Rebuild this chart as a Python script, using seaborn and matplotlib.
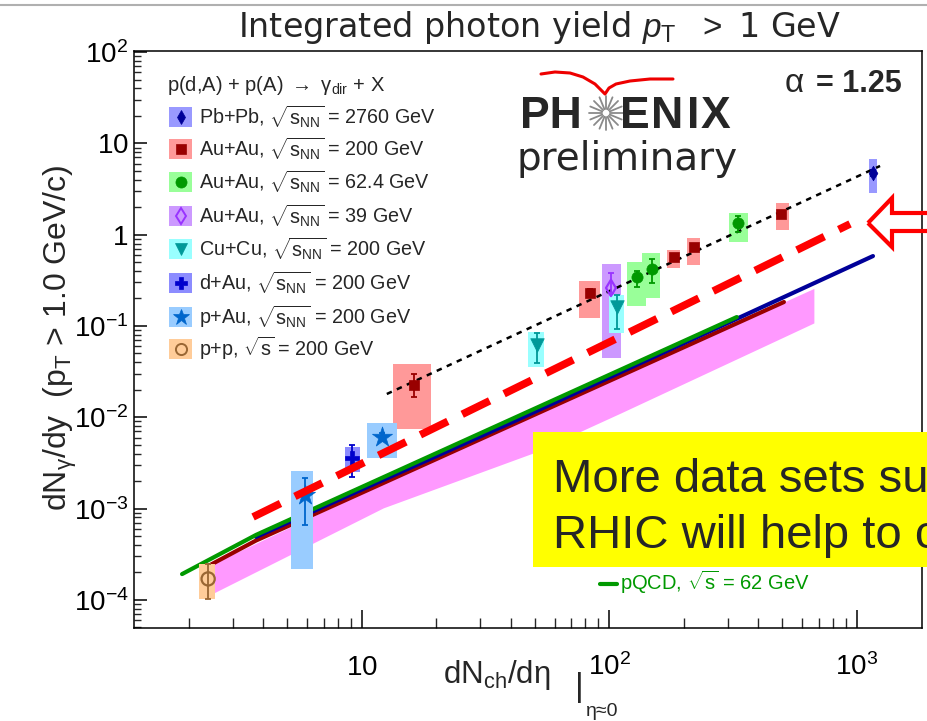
import matplotlib
matplotlib.use("Agg")
import numpy as np
import pandas as pd
import seaborn as sns
import matplotlib.pyplot as plt
from matplotlib.patches import Rectangle, Polygon
from matplotlib.lines import Line2D
from matplotlib.ticker import LogLocator, NullFormatter

# ---------------- data ----------------
# Pb+Pb 2760 GeV
pbpb_x = [1161]
pbpb_y = [4.73]
pbpb_stat_lo = [4.35]
pbpb_stat_hi = [5.15]
pbpb_box_xlo = [1117]
pbpb_box_xhi = [1205]
pbpb_sys_lo = [2.86]
pbpb_sys_hi = [6.73]

# Au+Au 200 GeV
auau200_x = [16.2, 83.4, 182, 219, 493]
auau200_y = [0.0226, 0.230, 0.569, 0.733, 1.68]
auau200_stat_lo = [0.0167, 0.207, 0.54, 0.70, 1.60]
auau200_stat_hi = [0.0298, 0.255, 0.60, 0.77, 1.77]
auau200_box_xlo = [13.3, 75.3, 171, 206, 471]
auau200_box_xhi = [19.0, 91.6, 193, 232, 531]
auau200_sys_lo = [0.00745, 0.1223, 0.431, 0.466, 1.125]
auau200_sys_hi = [0.0384, 0.311, 0.679, 0.919, 2.22]

# Au+Au 62.4 GeV
auau62_x = [129, 149, 330]
auau62_y = [0.344, 0.421, 1.343]
auau62_stat_lo = [0.267, 0.296, 1.07]
auau62_stat_hi = [0.40, 0.54, 1.62]
auau62_box_xlo = [118, 135, 304]
auau62_box_xhi = [140, 160, 363]
auau62_sys_lo = [0.1656, 0.202, 0.832]
auau62_sys_hi = [0.502, 0.63, 1.73]

# Au+Au 39 GeV
auau39_x = [101.4]
auau39_y = [0.261]
auau39_stat_lo = [0.2296]
auau39_stat_hi = [0.38]
auau39_box_xlo = [93.3]
auau39_box_xhi = [111.2]
auau39_sys_lo = [0.0447]
auau39_sys_hi = [0.477]

# Cu+Cu 200 GeV
cucu_x = [50.9, 107]
cucu_y = [0.0619, 0.1614]
cucu_stat_lo = [0.0394, 0.0927]
cucu_stat_hi = [0.0838, 0.218]
cucu_box_xlo = [46.9, 99.6]
cucu_box_xhi = [54.3, 114.6]
cucu_sys_lo = [0.0356, 0.0838]
cucu_sys_hi = [0.0859, 0.218]

# d+Au 200 GeV
dau_x = [9.11]
dau_y = [3.59e-3]
dau_stat_lo = [2.22e-3]
dau_stat_hi = [4.98e-3]
dau_box_xlo = [8.53]
dau_box_xhi = [9.82]
dau_sys_lo = [2.52e-3]
dau_sys_hi = [4.73e-3]

# p+Au 200 GeV
pau_x = [5.89, 12.05]
pau_y = [1.41e-3, 6.10e-3]
pau_stat_lo = [6.62e-4, 5.5e-3]
pau_stat_hi = [2.17e-3, 6.8e-3]
pau_box_xlo = [5.16, 10.5]
pau_box_xhi = [6.34, 13.8]
pau_sys_lo = [2.18e-4, 3.59e-3]
pau_sys_hi = [2.58e-3, 8.68e-3]

# p+p 200 GeV
pp_x = [2.39]
pp_y = [1.70e-4]
pp_stat_lo = [1.03e-4]
pp_stat_hi = [2.48e-4]
pp_box_xlo = [2.19]
pp_box_xhi = [2.55]
pp_sys_lo = [1.03e-4]
pp_sys_hi = [2.48e-4]

# fit line alpha = 1.25 (end points)
fit_x = [12.6, 1240]
fit_y = [0.0180, 5.65]

# red dashed annotation line (end points)
redline_x = [3.63, 938]
redline_y = [8.11e-4, 1.31]

# pQCD curves
pqcd2760_x = [3.73, 42.3, 1161]
pqcd2760_y = [4.90e-4, 9.35e-3, 0.583]
pqcd62_x = [1.875, 3.73, 327]
pqcd62_y = [1.92e-4, 5.15e-4, 0.1253]
pqcd200_x = [2.39, 3.73, 507]
pqcd200_y = [2.35e-4, 4.47e-4, 0.183]

# pQCD uncertainty band (200 GeV)
band_x = [2.45, 12.2, 49.1, 111, 507, 670]
band_lo = [1.15e-4, 1.02e-3, 4.06e-3, 0.01114, 0.0759, 0.108]
band_hi = [2.44e-4, 1.905e-3, 0.0105, 0.0284, 0.183, 0.258]

legend_labels = [
    r'Pb+Pb, $\sqrt{\mathrm{s}_{\mathrm{NN}}}$ = 2760 GeV',
    r'Au+Au, $\sqrt{\mathrm{s}_{\mathrm{NN}}}$ = 200 GeV',
    r'Au+Au, $\sqrt{\mathrm{s}_{\mathrm{NN}}}$ = 62.4 GeV',
    r'Au+Au, $\sqrt{\mathrm{s}_{\mathrm{NN}}}$ = 39 GeV',
    r'Cu+Cu, $\sqrt{\mathrm{s}_{\mathrm{NN}}}$ = 200 GeV',
    r'd+Au, $\sqrt{\mathrm{s}_{\mathrm{NN}}}$ = 200 GeV',
    r'p+Au, $\sqrt{\mathrm{s}_{\mathrm{NN}}}$ = 200 GeV',
    r'p+p, $\sqrt{\mathrm{s}}$ = 200 GeV',
]
x_ticks = [10, 100, 1000]
x_tick_labels = [r'$10$', r'$10^{2}$', r'$10^{3}$']
y_ticks = [1e-4, 1e-3, 1e-2, 1e-1, 1, 10, 100]
y_tick_labels = [r'$10^{-4}$', r'$10^{-3}$', r'$10^{-2}$', r'$10^{-1}$', r'$1$', r'$10$', r'$10^{2}$']

# ---------------- style ----------------
sns.set_theme(style="white")
plt.rcParams['font.family'] = ['Liberation Sans', 'DejaVu Sans']
plt.rcParams['mathtext.fontset'] = 'custom'
plt.rcParams['mathtext.rm'] = 'Liberation Sans'
plt.rcParams['mathtext.it'] = 'Liberation Sans:italic'
plt.rcParams['mathtext.bf'] = 'Liberation Sans:bold'
plt.rcParams['mathtext.sf'] = 'Liberation Sans'

W, H = 928, 721
fig = plt.figure(figsize=(W / 100, H / 100), dpi=100)
fig.patch.set_facecolor('white')


def fx(px):
    return px / W


def fy(py):
    return 1 - py / H


ax = fig.add_axes([fx(134), fy(628), (922 - 134) / W, (628 - 51) / H])
ax.set_facecolor('white')
ax.set_xscale('log')
ax.set_yscale('log')

datasets = [
    dict(x=pbpb_x, y=pbpb_y, slo=pbpb_stat_lo, shi=pbpb_stat_hi, bxl=pbpb_box_xlo, bxh=pbpb_box_xhi,
         ylo=pbpb_sys_lo, yhi=pbpb_sys_hi, marker='d', s=55, col='#000099', box='#9999ff', open=False, lm=7),
    dict(x=auau200_x, y=auau200_y, slo=auau200_stat_lo, shi=auau200_stat_hi, bxl=auau200_box_xlo,
         bxh=auau200_box_xhi, ylo=auau200_sys_lo, yhi=auau200_sys_hi, marker='s', s=55, col='#990000',
         box='#ff9999', open=False, lm=7),
    dict(x=auau62_x, y=auau62_y, slo=auau62_stat_lo, shi=auau62_stat_hi, bxl=auau62_box_xlo,
         bxh=auau62_box_xhi, ylo=auau62_sys_lo, yhi=auau62_sys_hi, marker='o', s=65, col='#009900',
         box='#99ff99', open=False, lm=8),
    dict(x=auau39_x, y=auau39_y, slo=auau39_stat_lo, shi=auau39_stat_hi, bxl=auau39_box_xlo,
         bxh=auau39_box_xhi, ylo=auau39_sys_lo, yhi=auau39_sys_hi, marker='d', s=70, col='#9933ff',
         box='#cc99ff', open=True, lm=8),
    dict(x=cucu_x, y=cucu_y, slo=cucu_stat_lo, shi=cucu_stat_hi, bxl=cucu_box_xlo, bxh=cucu_box_xhi,
         ylo=cucu_sys_lo, yhi=cucu_sys_hi, marker='v', s=95, col='#009999', box='#99ffff', open=False, lm=8),
    dict(x=dau_x, y=dau_y, slo=dau_stat_lo, shi=dau_stat_hi, bxl=dau_box_xlo, bxh=dau_box_xhi,
         ylo=dau_sys_lo, yhi=dau_sys_hi, marker='P', s=100, col='#0000cc', box='#8c8cff', open=False, lm=9),
    dict(x=pau_x, y=pau_y, slo=pau_stat_lo, shi=pau_stat_hi, bxl=pau_box_xlo, bxh=pau_box_xhi,
         ylo=pau_sys_lo, yhi=pau_sys_hi, marker='*', s=230, col='#0066cc', box='#99ccff', open=False, lm=12),
    dict(x=pp_x, y=pp_y, slo=pp_stat_lo, shi=pp_stat_hi, bxl=pp_box_xlo, bxh=pp_box_xhi,
         ylo=pp_sys_lo, yhi=pp_sys_hi, marker='o', s=90, col='#996633', box='#ffcc99', open=True, lm=8),
]

# pQCD band
ax.fill_between(band_x, band_lo, band_hi, color='#ff99ff', linewidth=0, zorder=1)

# pQCD curves
for cx, cy, c in [(pqcd200_x, pqcd200_y, '#990000'), (pqcd2760_x, pqcd2760_y, '#000099'),
                  (pqcd62_x, pqcd62_y, '#009900')]:
    sns.lineplot(x=cx, y=cy, color=c, linewidth=3, estimator=None, sort=False, ax=ax, zorder=2)

# systematic boxes
for d in datasets:
    for xl, xh, yl, yh in zip(d['bxl'], d['bxh'], d['ylo'], d['yhi']):
        ax.add_patch(Rectangle((xl, yl), xh - xl, yh - yl, facecolor=d['box'], edgecolor='none', zorder=3))

# fit line
sns.lineplot(x=fit_x, y=fit_y, color='black', linewidth=1.8, linestyle=(0, (2.2, 2.2)),
             estimator=None, sort=False, ax=ax, zorder=4)

# stat errors and markers
for d in datasets:
    y = np.array(d['y'])
    yerr = [y - np.array(d['slo']), np.array(d['shi']) - y]
    ax.errorbar(d['x'], d['y'], yerr=yerr, fmt='none', ecolor=d['col'], elinewidth=1.3,
                capsize=2.5, capthick=1.3, zorder=5)
    if d['open']:
        sns.scatterplot(x=d['x'], y=d['y'], marker=d['marker'], s=d['s'], color='none',
                        edgecolor=d['col'], linewidth=1.6, ax=ax, zorder=6)
    else:
        sns.scatterplot(x=d['x'], y=d['y'], marker=d['marker'], s=d['s'], color=d['col'],
                        edgecolor=d['col'], linewidth=0.5, ax=ax, zorder=6)

# red dashed annotation line
sns.lineplot(x=redline_x, y=redline_y, color='#ff0000', linewidth=5.5, linestyle=(0, (4.0, 2.1)),
             estimator=None, sort=False, ax=ax, zorder=7)

# axes
ax.set_xlim(1.199, 1832)
ax.set_ylim(4.93e-5, 102.6)
ax.set_xticks(x_ticks, x_tick_labels)
ax.set_yticks(y_ticks, y_tick_labels)
ax.xaxis.set_minor_locator(LogLocator(base=10, subs=np.arange(2, 10), numticks=30))
ax.yaxis.set_minor_locator(LogLocator(base=10, subs=np.arange(2, 10), numticks=30))
ax.xaxis.set_minor_formatter(NullFormatter())
ax.yaxis.set_minor_formatter(NullFormatter())
ax.tick_params(axis='x', which='major', direction='in', length=13, width=1.1, pad=34, labelsize=20,
               colors='black', top=False, bottom=True)
ax.tick_params(axis='x', which='minor', direction='in', length=7, width=1.0, top=False, bottom=True)
ax.tick_params(axis='y', which='major', direction='in', length=9, width=1.1, pad=4, labelsize=20,
               colors='black', left=True, right=False)
ax.tick_params(axis='y', which='minor', direction='in', length=5, width=1.0, left=True, right=False)
for t in ax.get_xticklabels():
    t.set_verticalalignment('baseline')
for sp in ax.spines.values():
    sp.set_visible(True)
    sp.set_color('black')
    sp.set_linewidth(1.1)
ax.set_xlabel('')
ax.set_ylabel('')
ax.grid(False)

# ---------------- figure annotations ----------------
fig.add_artist(Line2D([0, 1], [fy(5), fy(5)], transform=fig.transFigure, color='#b0b0b0', lw=1.5))

fig.text(fx(540), fy(37), r'Integrated photon yield $p_{\mathrm{T}}$  $>$ 1 GeV', ha='center',
         va='baseline', fontsize=24, family=['DejaVu Sans'])

fig.text(fx(60), fy(338), 'dN$_{\\mathrm{γ}}$/dy  (p$_{\\mathrm{T}}$ > 1.0 GeV/c)', rotation=90,
         ha='center', va='center', fontsize=23)

# x axis title
fig.text(fx(443), fy(683), 'dN$_{\\mathrm{ch}}$/dη', ha='left', va='baseline', fontsize=22.5)
fig.text(fx(579), fy(696), '|', ha='center', va='baseline', fontsize=24)
fig.text(fx(586), fy(716), 'η≈0', ha='left', va='baseline', fontsize=14)

# legend (upper left)
fig.text(fx(167), fy(91), r'p(d,A) + p(A) $\rightarrow$ $\mathrm{γ}_{\mathrm{dir}}$ + X', ha='left',
         va='baseline', fontsize=14.5)
legend_y = [117, 149, 182, 216, 249, 283, 317, 349]
for d, lab, yy in zip(datasets, legend_labels, legend_y):
    fig.add_artist(Rectangle((fx(169), fy(yy + 10)), 23 / W, 20 / H, transform=fig.transFigure,
                             facecolor=d['box'], edgecolor='none'))
    fig.add_artist(Line2D([fx(180.5)], [fy(yy)], transform=fig.transFigure, marker=d['marker'],
                          markersize=d['lm'], color=d['col'],
                          markerfacecolor='none' if d['open'] else d['col'],
                          markeredgewidth=1.4 if d['open'] else 0.5, linestyle='none'))
    fig.text(fx(199), fy(yy + 7), lab, ha='left', va='baseline', fontsize=14.2)

# alpha label
fig.text(fx(902), fy(92), '= 1.25', ha='right', va='baseline', fontsize=22, fontweight='bold')
fig.text(fx(804), fy(92), 'α', ha='right', va='baseline', fontsize=24)

# PHENIX logo
fig.text(fx(520), fy(128), 'PH', ha='left', va='baseline', fontsize=32, fontweight='bold')
for letter, lx in [('E', 620), ('N', 651), ('I', 687), ('X', 701)]:
    fig.text(fx(lx), fy(128), letter, ha='left', va='baseline', fontsize=32, fontweight='bold')
cx0, cy0 = 606, 113
for k in range(16):
    a = 2 * np.pi * k / 16
    fig.add_artist(Line2D([fx(cx0 + 4 * np.cos(a)), fx(cx0 + 17 * np.cos(a))],
                          [fy(cy0 + 4 * np.sin(a)), fy(cy0 + 17 * np.sin(a))],
                          transform=fig.transFigure, color='#8a8a8a', lw=1.3))
swoosh_px = [541, 555, 570, 583, 595, 605, 609, 616, 630, 650, 673]
swoosh_py = [74, 72, 73, 77, 84, 94, 88, 84, 81, 79, 79]
fig.add_artist(Line2D([fx(p) for p in swoosh_px], [fy(p) for p in swoosh_py], transform=fig.transFigure,
                      color='#ee0000', lw=2.2, solid_joinstyle='round'))
fig.text(fx(517), fy(170), 'preliminary', ha='left', va='baseline', fontsize=28, family=['DejaVu Sans'])

# outlined arrow at the right
arrow_px = [(868, 223), (892, 198), (892, 213), (935, 213), (935, 231), (892, 231), (892, 247)]
fig.add_artist(Polygon([(fx(a), fy(b)) for a, b in arrow_px], closed=True, transform=fig.transFigure,
                       facecolor='none', edgecolor='#ff0000', lw=3, joinstyle='miter', zorder=20))

# pQCD legend entry visible below the box
fig.add_artist(Line2D([fx(600), fx(617)], [fy(584), fy(584)], transform=fig.transFigure, color='#009900',
                      lw=3, zorder=15))
fig.text(fx(620), fy(590), r'pQCD, $\sqrt{\mathrm{s}}$ = 62 GeV', ha='left', va='baseline', fontsize=14.5,
         color='#009900', zorder=15)

# yellow comment box
fig.add_artist(Rectangle((fx(533), fy(567)), (940 - 533) / W, (567 - 432) / H, transform=fig.transFigure,
                         facecolor='#ffff00', edgecolor='none', zorder=30))
fig.text(fx(553), fy(492), 'More data sets su', ha='left', va='baseline', fontsize=34, zorder=31)
fig.text(fx(553), fy(548), 'RHIC will help to c', ha='left', va='baseline', fontsize=34, zorder=31)

fig.savefig('out.png', dpi=100)
